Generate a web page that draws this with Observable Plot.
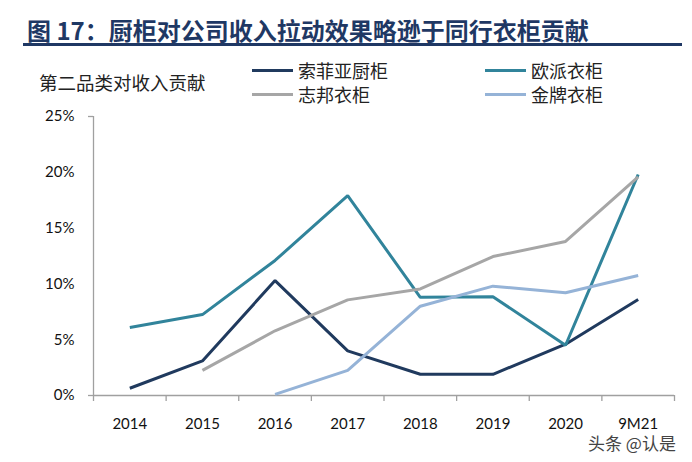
<!DOCTYPE html>
<html>
<head>
<meta charset="utf-8">
<script src="https://cdn.jsdelivr.net/npm/d3@7"></script>
<script src="https://cdn.jsdelivr.net/npm/@observablehq/plot@0.6"></script>
<style>
  html, body { margin: 0; padding: 0; background: #fff; }
  #page { position: relative; width: 692px; height: 462px; overflow: hidden; font-family: "Noto Sans CJK SC", sans-serif; }
  #header { position: relative; width: 692px; height: 105px; }
  .abs { position: absolute; white-space: nowrap; }
  #title { left: 27px; top: 14px; font-size: 24px; font-weight: 700; color: #1f3864; line-height: 32px; }
  #rule { left: 23px; top: 43px; width: 659px; height: 3px; background: #1f3864; }
  #ytitle { left: 39px; top: 70px; font-size: 18.5px; color: #222; line-height: 24px; }
  .leg { font-size: 18px; color: #222; line-height: 24px; }
  .sw { position: absolute; width: 41px; height: 3px; }
  #mark { left: 588px; top: 434px; font-size: 17px; color: #444; line-height: 18px; text-shadow: 0 0 2px #fff, 0 0 2px #fff; }
  svg { display: block; }
</style>
</head>
<body>
<div id="page">
  <div id="header">
    <div id="title" class="abs">图 17：厨柜对公司收入拉动效果略逊于同行衣柜贡献</div>
    <div id="rule" class="abs"></div>
    <div id="ytitle" class="abs">第二品类对收入贡献</div>
    <div id="legend"></div>
  </div>
  <div id="chart"></div>
  <div id="mark" class="abs">头条 @认是</div>
</div>
<script>
// ---- data ----
const categories = ["2014", "2015", "2016", "2017", "2018", "2019", "2020", "9M21"];
const seriesNames = ["索菲亚厨柜", "欧派衣柜", "志邦衣柜", "金牌衣柜"];
const seriesColors = ["#203a5e", "#31849b", "#a6a6a6", "#95b3d7"];
const sofia  = [0.0065, 0.031, 0.103, 0.040, 0.019, 0.019, 0.046, 0.086];
const oppein = [0.061, 0.0725, 0.121, 0.179, 0.088, 0.0885, 0.045, 0.198];
const zbom   = [null, 0.0225, 0.058, 0.0857, 0.0955, 0.1245, 0.138, 0.196];
const goldenhome = [null, null, 0.001, 0.0225, 0.080, 0.098, 0.092, 0.1075];
const yTicks = [0, 0.05, 0.10, 0.15, 0.20, 0.25];

const seriesValues = [sofia, oppein, zbom, goldenhome];
const rows = [];
seriesValues.forEach((vals, si) => {
  vals.forEach((v, i) => {
    if (v != null) rows.push({s: seriesNames[si], i, v});
  });
});

// ---- legend (HTML) ----
const legend = document.getElementById("legend");
const legPos = [
  {x: 252, y: 70}, {x: 485, y: 70},
  {x: 252, y: 94}, {x: 485, y: 94}
];
seriesNames.forEach((name, k) => {
  const p = legPos[k];
  const sw = document.createElement("div");
  sw.className = "sw";
  sw.style.left = p.x + "px";
  sw.style.top = (p.y - 1.5) + "px";
  sw.style.background = seriesColors[k];
  legend.appendChild(sw);
  const t = document.createElement("div");
  t.className = "abs leg";
  t.style.left = (p.x + 46) + "px";
  t.style.top = (p.y - 12) + "px";
  t.textContent = name;
  legend.appendChild(t);
});

// ---- chart ----
const boundaries = d3.range(categories.length + 1).map(d => d - 0.5);
const axisColor = "#a0a0a0";

const chart = Plot.plot({
  width: 692,
  height: 357,
  marginLeft: 93,
  marginRight: 18,
  marginTop: 11,
  marginBottom: 67,
  style: {fontFamily: "Lato, 'Open Sans', sans-serif", fontSize: "15px", color: "#111", background: "#fff"},
  x: {domain: [-0.5, categories.length - 0.5], axis: null, label: null},
  y: {domain: [0, 0.25], axis: null, label: null},
  color: {domain: seriesNames, range: seriesColors},
  marks: [
    Plot.ruleX([-0.5], {stroke: axisColor, strokeWidth: 1.3}),
    Plot.axisY([0, 0.25], {tickSize: 5, tickFormat: () => "", label: null, stroke: axisColor, strokeWidth: 1.3}),
    Plot.ruleY([0], {stroke: axisColor, strokeWidth: 1.3}),
    Plot.axisX(boundaries, {tickSize: 6, tickFormat: () => "", label: null, stroke: axisColor, strokeWidth: 1.3}),
    Plot.axisX(d3.range(categories.length), {tickSize: 0, tickPadding: 23, tickFormat: i => categories[i], label: null, fontSize: 15, fill: "#111"}),
    Plot.axisY(yTicks, {tickSize: 0, tickPadding: 19, tickFormat: d3.format(".0%"), label: null, fontSize: 15, fill: "#111"}),
    Plot.line(rows, {x: "i", y: "v", z: "s", stroke: "s", strokeWidth: 3, strokeLinejoin: "miter", strokeLinecap: "butt"})
  ]
});
document.getElementById("chart").appendChild(chart);
</script>
</body>
</html>
